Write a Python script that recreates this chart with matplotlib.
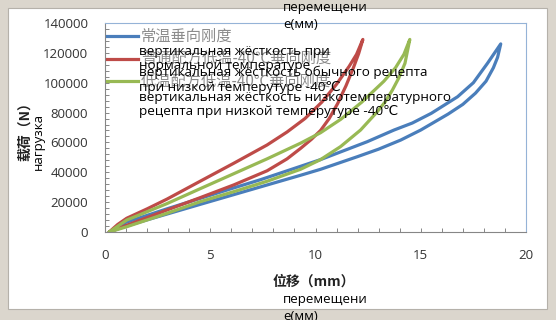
import matplotlib
matplotlib.use("Agg")
import matplotlib.pyplot as plt
from matplotlib.patches import Rectangle
from matplotlib.ticker import MultipleLocator

# ---- data: hysteresis loops (displacement mm, load N) -----------------------
# blue: 常温垂向刚度
blue_load_x = [0.2, 1.0, 2.94, 4.52, 6.11, 7.7, 9.29, 10.24, 12.0, 13.0, 14.05, 15.0, 16.3, 17.0, 17.6, 18.1, 18.45, 18.65, 18.8]
blue_load_y = [0, 4000, 12000, 18500, 25000, 31500, 38000, 42000, 50500, 55500, 61600, 68300, 79000, 85500, 93000, 101000, 110000, 117000, 126000]
blue_unload_x = [18.8, 18.17, 17.5, 16.75, 15.5, 14.6, 13.73, 12.46, 10.24, 9.29, 7.38, 6.11, 4.52, 2.94, 1.0, 0.2]
blue_unload_y = [126000, 113000, 100000, 90600, 79500, 73000, 68300, 60500, 48500, 44000, 35000, 29500, 22500, 15500, 6500, 0]

# red: 普通配方低温-40℃垂向刚度
red_load_x = [0.2, 1.03, 2.94, 4.52, 6.11, 7.7, 8.65, 9.29, 9.8, 10.24, 10.65, 11.05, 11.45, 11.8, 12.05, 12.25]
red_load_y = [0, 4500, 14700, 23000, 31500, 41000, 49000, 56000, 62000, 68000, 76000, 86000, 98000, 110000, 119500, 129000]
red_unload_x = [12.25, 11.95, 11.6, 11.0, 10.3, 9.5, 8.65, 7.7, 6.11, 4.52, 2.94, 2.0, 1.03, 0.6, 0.2]
red_unload_y = [129000, 119000, 111000, 99000, 87000, 76000, 67000, 58300, 46000, 34000, 22000, 15500, 9200, 5000, 0]

# green: 低温配方低温-40℃垂向刚度
green_load_x = [0.2, 1.03, 2.94, 4.52, 6.11, 7.7, 9.29, 10.24, 11.19, 12.14, 12.9, 13.3, 13.65, 13.95, 14.25, 14.48]
green_load_y = [0, 3500, 12500, 20300, 27000, 34000, 42000, 48500, 57200, 68300, 80000, 87000, 95000, 103000, 113000, 129000]
green_unload_x = [14.48, 14.2, 13.8, 13.25, 12.2, 11.2, 10.24, 9.29, 7.7, 6.11, 4.52, 2.94, 1.03, 0.2]
green_unload_y = [129000, 119000, 110000, 101000, 87000, 75500, 66500, 59500, 49000, 39000, 29000, 19000, 8000, 0]

series_cn = ["常温垂向刚度", "普通配方低温-40℃垂向刚度", "低温配方低温-40℃垂向刚度"]
ru_lines = [
    "вертикальная жёсткость при",
    "нормальной температуре",
    "вертикальная жёсткость обычного рецепта",
    "при низкой темперутуре -40℃",
    "вертикальная жёсткость низкотемпературного",
    "рецепта при низкой темперутуре -40℃",
]

BLUE = "#4A7EBB"; RED = "#BE4B48"; GREEN = "#98B954"
CJK = ["Noto Sans CJK SC", "DejaVu Sans"]
LAT = ["Open Sans", "DejaVu Sans"]
W, H = 556, 320

fig = plt.figure(figsize=(W / 100, H / 100), dpi=100)
fig.patch.set_facecolor("#dbd6cd")
fig.patches.append(Rectangle((8 / W, 1 - 309 / H), 539 / W, 301 / H,
                             transform=fig.transFigure, facecolor="white",
                             edgecolor="#b5b1aa", lw=0.8, zorder=-5))

ax = fig.add_axes([105 / W, 88 / H, 421 / W, 209 / H])
ax.set_zorder(1)
for lx, ly, ux, uy, c in [(blue_load_x, blue_load_y, blue_unload_x, blue_unload_y, BLUE),
                          (red_load_x, red_load_y, red_unload_x, red_unload_y, RED),
                          (green_load_x, green_load_y, green_unload_x, green_unload_y, GREEN)]:
    ax.plot(lx + ux, ly + uy, color=c, lw=2.3, solid_joinstyle="round",
            solid_capstyle="round")

ax.set_xlim(0, 20); ax.set_ylim(0, 140000)
ax.xaxis.set_major_locator(MultipleLocator(5))
ax.xaxis.set_minor_locator(MultipleLocator(1))
ax.yaxis.set_major_locator(MultipleLocator(20000))
ax.yaxis.set_minor_locator(MultipleLocator(4000))
ax.tick_params(which="both", direction="in", length=3, width=0.7, color="#868686")
ax.tick_params(labelsize=9.5, labelcolor="#333333")
ax.tick_params(axis="y", pad=12)
ax.tick_params(axis="x", pad=12)
for lab in ax.get_xticklabels() + ax.get_yticklabels():
    lab.set_family(LAT)
for s in ("left", "bottom"):
    ax.spines[s].set_color("#868686")
for s in ("top", "right"):
    ax.spines[s].set_color("#95B3D7")

# ---- legend (drawn by hand) -------------------------------------------------
for i, (c, lab) in enumerate(zip([BLUE, RED, GREEN], series_cn)):
    yy = 1 - (36 + i * 22.5) / H
    fig.add_artist(plt.Line2D([107 / W, 138 / W], [yy, yy], color=c, lw=2.3,
                              transform=fig.transFigure, zorder=3))
    fig.text(141 / W, yy, lab, color="#8c8c8c", fontsize=11, family=CJK,
             va="center", ha="left", zorder=3)

for lab, py in zip(ru_lines, [52, 65, 72, 87, 98, 112]):
    fig.text(139 / W, 1 - py / H, lab, color="black", fontsize=9.7,
             family=LAT, va="center", ha="left", zorder=4)

# ---- axis titles --------------------------------------------------------------
fig.text(314 / W, 1 - 282 / H, "位移（mm）", fontsize=10, fontweight="bold",
         family=CJK, color="#222222", ha="center", va="center")
fig.text(25 / W, 1 - 128 / H, "载荷（N）", fontsize=10, fontweight="bold",
         family=CJK, color="#222222", ha="center", va="center", rotation=90)
fig.text(38 / W, 1 - 141 / H, "нагрузка", fontsize=9.5, family=LAT,
         color="black", ha="center", va="center", rotation=90)
for py in (8, 300):
    fig.text(283 / W, 1 - py / H, "перемещени", fontsize=9.5, family=LAT,
             color="black", ha="left", va="center", zorder=4)
    fig.text(283 / W, 1 - (py + 17) / H, "е(мм)", fontsize=9.5, family=LAT,
             color="black", ha="left", va="center", zorder=4)

fig.savefig("out.png", dpi=100)
